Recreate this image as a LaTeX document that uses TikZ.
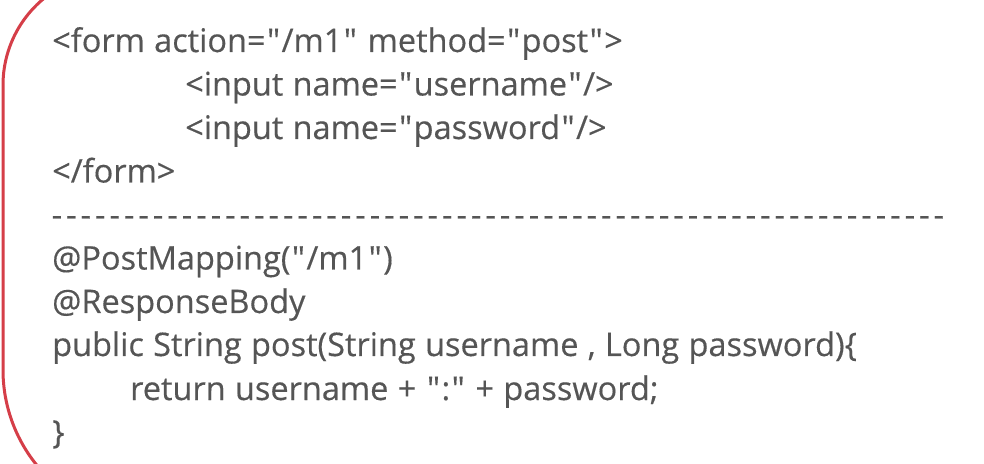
\documentclass[tikz,border=0pt]{standalone}
\usepackage{fontspec}
\setmainfont{Open Sans}[FakeBold=0.35, WordSpace=1.1]
\usepackage{tikz}
\usetikzlibrary{calc}
\definecolor{codegray}{RGB}{85,85,85}
\definecolor{framered}{RGB}{213,62,72}
\newcommand{\dq}{\makebox[16pt]{\textquotedbl}}
\tikzstyle{txt}=[anchor=base west, inner sep=0pt, text=codegray, font=\fontsize{32.5}{38}\selectfont]
\tikzstyle{frm}=[draw=framered, line width=3pt]

\begin{document}
\begin{tikzpicture}[x=1pt, y=1pt]
		\useasboundingbox (0,0) rectangle (984,463);
		\clip (0,0) rectangle (984,463);
		\fill[white] (0,0) rectangle (984,463);

		\draw[style=frm] ([shift={(110:112pt)}]115,378) arc (110:180:112pt) -- (3,93) arc (180:235:151pt);

		\node[style=txt] (1) at (52, 411) {<form action=\dq/m1\dq{} method=\dq post\dq>};
		\node[style=txt] (2) at (185, 367.5) {<input name=\dq username\dq/>};
		\node[style=txt] (3) at (185, 324) {<input name=\dq password\dq/>};
		\node[style=txt] (4) at (52, 280.5) {</form>};
		\node[style=txt] (5) at (49.5, 237) {\foreach \i in {1,...,62}{\makebox[14.45pt]{-}}};
		\node[style=txt] (6) at (52, 193.5) {@PostMapping(\dq/m1\dq)};
		\node[style=txt] (7) at (52, 150) {@ResponseBody};
		\node[style=txt] (8) at (52, 107) {public String post(String username , Long password)\{};
		\node[style=txt] (9) at (130, 63) {return username + \dq:\dq{} + password;};
		\node[style=txt] (10) at (52, 19.5) {\}};
	\end{tikzpicture}
\end{document}
